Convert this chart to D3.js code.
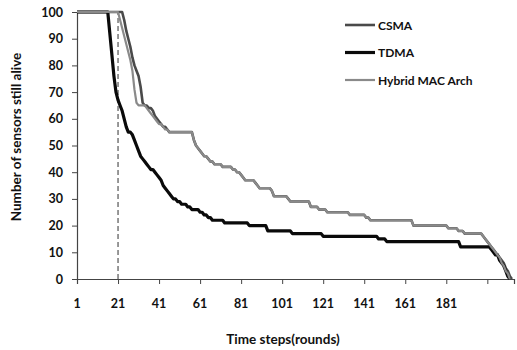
<!DOCTYPE html>
<html>
<head>
<meta charset="utf-8">
<script src="https://cdn.jsdelivr.net/npm/d3@7"></script>
<style>
  body { margin: 0; background: #fff; }
  svg { display: block; font-family: Lato, "Open Sans", sans-serif; }
</style>
</head>
<body>
<div id="chart"></div>
<script>
// values, one per round (round 1 = first entry)
var seriesNames = ["CSMA", "TDMA", "Hybrid MAC Arch"];

var tdma = [
  100,100,100,100,100,100,100,100,100,100,100,100,100,100,100,100,
  92,84,76,70,67,65,63,60,57,55,55,54,52,50,48,46,45,44,43,42,41,41,40,39,
  38,37,35,34,33,32,31,30,30,29,29,28,28,28,27,27,26,26,26,26,25,25,24,24,23,23,22,
  22,22,22,22,22,
  21,21,21,21,21,21,21,21,21,21,21,21,
  20,20,20,20,20,20,20,20,20,
  18,18,18,18,18,18,18,18,18,18,18,18,
  17,17,17,17,17,17,17,17,17,17,17,17,17,17,17,
  16,16,16,16,16,16,16,16,16,16,16,16,16,16,16,16,16,16,16,16,16,16,16,16,16,16,16,
  15,15,15,15,
  14,14,14,14,14,14,14,14,14,14,14,14,14,14,14,14,14,14,
  14,14,14,14,14,14,14,14,14,14,14,14,14,14,14,14,14,14,
  12,12,12,12,12,12,12,12,12,12,12,12,12,12,12,
  11,10,9,9,7,6,5,3,1,0
];

var csma = [
  100,100,100,100,100,100,100,100,100,100,100,100,100,100,100,100,100,100,100,100,100,100,100,
  97,93,90,87,83,80,78,76,72,66,65,65,64,64,63,61,60,59,58,57,57,56,
  55,55,55,55,55,55,55,55,55,55,55,55,
  52,50,49,48,47,46,46,45,44,44,43,43,43,43,42,42,42,42,42,41,41,40,40,39,38,
  37,37,37,37,37,36,35,34,34,34,34,34,34,33,
  31,31,31,31,31,31,31,30,
  29,29,29,29,29,29,29,29,29,29,
  27,27,27,27,26,26,26,26,
  25,25,25,25,25,25,25,25,25,25,25,
  24,24,24,24,24,24,24,24,23,23,
  22,22,22,22,22,22,22,22,22,22,22,22,22,22,22,22,22,22,22,22,22,
  20,20,20,20,20,20,20,20,20,20,20,20,20,20,20,20,20,
  19,19,19,19,19,18,18,18,
  17,17,17,17,17,17,17,17,17,
  16,15,14,13,12,11,10,9,8,7,6,4,3,1,0
];

var hybrid = [
  100,100,100,100,100,100,100,100,100,100,100,100,100,100,100,100,100,100,100,100,100,
  97,94,91,88,85,82,78,71,66,65,65,65,65,64,63,62,61,60,59,58,58,57,56,56,
  55,55,55,55,55,55,55,55,55,55,55,55,
  52,50,49,48,47,46,46,45,44,44,43,43,43,43,42,42,42,42,42,41,41,40,40,39,38,
  37,37,37,37,37,36,35,34,34,34,34,34,34,33,
  31,31,31,31,31,31,31,30,
  29,29,29,29,29,29,29,29,29,29,
  27,27,27,27,26,26,26,26,
  25,25,25,25,25,25,25,25,25,25,25,
  24,24,24,24,24,24,24,24,23,23,
  22,22,22,22,22,22,22,22,22,22,22,22,22,22,22,22,22,22,22,22,22,
  20,20,20,20,20,20,20,20,20,20,20,20,20,20,20,20,20,
  19,19,19,19,19,18,18,18,
  17,17,17,17,17,17,17,17,17,
  16,15,14,13,12,11,10,9,8,6,5,3,2,0
];

var xTickLabels = [1, 21, 41, 61, 81, 101, 121, 141, 161, 181];
var xTickMarks = [21, 41, 61, 81, 101, 121, 141, 161, 181, 201];
var yTicks = [0, 10, 20, 30, 40, 50, 60, 70, 80, 90, 100];
var markerRound = 21;

var width = 517, height = 350;
var plotLeft = 77, plotRight = 514, plotTop = 12, plotBottom = 279;

var svg = d3.select("#chart").append("svg")
  .attr("width", width)
  .attr("height", height);

var x = d3.scaleLinear().domain([1, 214]).range([plotLeft, plotRight]);
var y = d3.scaleLinear().domain([0, 100]).range([plotBottom, plotTop]);

// dashed marker line at round 21
svg.append("line")
  .attr("x1", x(markerRound)).attr("x2", x(markerRound))
  .attr("y1", y(0)).attr("y2", y(100))
  .attr("stroke", "#555")
  .attr("stroke-width", 1.2)
  .attr("stroke-dasharray", "5,3");

// axes
var yAxis = svg.append("g")
  .attr("transform", "translate(" + plotLeft + ",0)")
  .call(d3.axisLeft(y).tickValues(yTicks).tickSize(5).tickPadding(9));
yAxis.select(".domain").attr("stroke", "#444").attr("stroke-width", 1.2);
yAxis.selectAll(".tick line").attr("stroke", "#444");
yAxis.selectAll("text")
  .attr("font-size", 12.5).attr("font-weight", "bold").attr("fill", "#111")
  .attr("font-family", "Lato, sans-serif");

var xAxis = svg.append("g")
  .attr("transform", "translate(0," + plotBottom + ")")
  .call(d3.axisBottom(x).tickValues(xTickMarks).tickSize(5).tickFormat(""));
xAxis.select(".domain").attr("stroke", "#444").attr("stroke-width", 1.2);
xAxis.selectAll(".tick line").attr("stroke", "#444");

svg.selectAll(".xlabel")
  .data(xTickLabels)
  .enter().append("text")
  .attr("class", "xlabel")
  .attr("x", function(d) { return x(d); })
  .attr("y", 308)
  .attr("text-anchor", "middle")
  .attr("font-size", 12.5)
  .attr("font-weight", "bold")
  .attr("fill", "#111")
  .text(function(d) { return d; });

// axis titles
svg.append("text")
  .attr("transform", "translate(21,137) rotate(-90)")
  .attr("text-anchor", "middle")
  .attr("font-size", 13.5)
  .attr("font-weight", "bold")
  .attr("fill", "#111")
  .text("Number of sensors still alive");

svg.append("text")
  .attr("x", 283)
  .attr("y", 344)
  .attr("text-anchor", "middle")
  .attr("font-size", 13.5)
  .attr("font-weight", "bold")
  .attr("fill", "#111")
  .text("Time steps(rounds)");

// series lines
var line = d3.line()
  .x(function(d, i) { return x(i + 1); })
  .y(function(d) { return y(d); });

var styles = [
  { data: csma, color: "#4a4a4a", w: 2.6 },
  { data: tdma, color: "#0a0a0a", w: 3.2 },
  { data: hybrid, color: "#8a8a8a", w: 2.2 }
];

styles.forEach(function(s) {
  svg.append("path")
    .datum(s.data)
    .attr("d", line)
    .attr("fill", "none")
    .attr("stroke", s.color)
    .attr("stroke-width", s.w)
    .attr("stroke-linejoin", "round");
});

// legend
var legend = svg.append("g");
styles.forEach(function(s, i) {
  var ly = 25 + i * 27.5;
  legend.append("line")
    .attr("x1", 345).attr("x2", 375)
    .attr("y1", ly).attr("y2", ly)
    .attr("stroke", s.color)
    .attr("stroke-width", s.w);
  legend.append("text")
    .attr("x", 378)
    .attr("y", ly + 4.5)
    .attr("font-size", 12)
    .attr("font-weight", "bold")
    .attr("fill", "#111")
    .text(seriesNames[i]);
});
</script>
</body>
</html>
